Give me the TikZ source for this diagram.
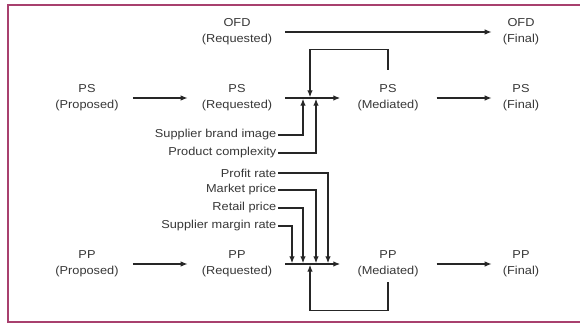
\documentclass[tikz,border=0pt]{standalone}
\usepackage{fontspec}
\setmainfont{Liberation Sans}[FakeStretch=1.11]
\usetikzlibrary{arrows.meta,calc}
\definecolor{frame}{HTML}{A8406E}
\definecolor{ink}{HTML}{262626}
\definecolor{txt}{HTML}{383838}
\begin{document}
\begin{tikzpicture}[x=1pt,y=-1pt,
  lbl/.style={font=\fontsize{11.5}{16}\selectfont, text=txt, align=center, inner sep=1pt},
  side/.style={font=\fontsize{11.5}{14}\selectfont, text=txt, anchor=east, inner sep=1.5pt},
  conn/.style={draw=ink, line width=1.3pt},
  arr/.style={conn, -{Latex[length=7pt,width=5.5pt]}}]
\useasboundingbox (0,0) rectangle (580,326);
\fill[white] (0,0) rectangle (580,326);
\draw[frame, line width=2.2pt] (580,5) -- (8,5) -- (8,322) -- (580,322);

% main nodes
\node[lbl] (ofdR) at (237,32) {OFD\\(Requested)};
\node[lbl] (ofdF) at (521,32) {OFD\\(Final)};
\node[lbl] (psP) at (87,98) {PS\\(Proposed)};
\node[lbl] (psR) at (237,98) {PS\\(Requested)};
\node[lbl] (psM) at (388,98) {PS\\(Mediated)};
\node[lbl] (psF) at (521,98) {PS\\(Final)};
\node[lbl] (ppP) at (87,264) {PP\\(Proposed)};
\node[lbl] (ppR) at (237,264) {PP\\(Requested)};
\node[lbl] (ppM) at (388,264) {PP\\(Mediated)};
\node[lbl] (ppF) at (521,264) {PP\\(Final)};

% side factors
\node[side] (sbi) at (278,135) {Supplier brand image};
\node[side] (pc)  at (278,153) {Product complexity};
\node[side] (pr)  at (278,173) {Profit rate};
\node[side] (mp)  at (278,190) {Market price};
\node[side] (rp)  at (278,208) {Retail price};
\node[side] (smr) at (278,226) {Supplier margin rate};

% junction points
\coordinate (jPS) at (310,98);
\coordinate (jPP) at (310,264);

% straight arrows
\draw[arr, shorten <=12pt, shorten >=10pt] (ofdR.east) -- (ofdF.west);
\draw[arr, shorten <=13pt, shorten >=13pt] (psP.east) -- (psR.west);
\draw[arr, shorten <=12pt, shorten >=16pt] (psR.east) -- (psM.west);
\draw[arr, shorten <=17pt, shorten >=10pt] (psM.east) -- (psF.west);
\draw[arr, shorten <=13pt, shorten >=13pt] (ppP.east) -- (ppR.west);
\draw[arr, shorten <=12pt, shorten >=16pt] (ppR.east) -- (ppM.west);
\draw[arr, shorten <=17pt, shorten >=10pt] (ppM.east) -- (ppF.west);

% PS feedback and factors
\draw[arr] ([yshift=14pt]psM.north) -- ++(0,-20) -| ([yshift=0.7pt]jPS);
\draw[arr] (sbi.east) -| ([xshift=-7pt,yshift=-0.7pt]jPS);
\draw[arr] (pc.east)  -| ([xshift=6pt,yshift=-0.7pt]jPS);

% PP factors and feedback
\draw[arr] (pr.east)  -| ([xshift=18pt,yshift=0.7pt]jPP);
\draw[arr] (mp.east)  -| ([xshift=6pt,yshift=0.7pt]jPP);
\draw[arr] (rp.east)  -| ([xshift=-7pt,yshift=0.7pt]jPP);
\draw[arr] (smr.east) -| ([xshift=-18pt,yshift=0.7pt]jPP);
\draw[arr] ([yshift=-4pt]ppM.south) -- ++(0,28) -| ([yshift=-0.7pt]jPP);
\end{tikzpicture}
\end{document}
